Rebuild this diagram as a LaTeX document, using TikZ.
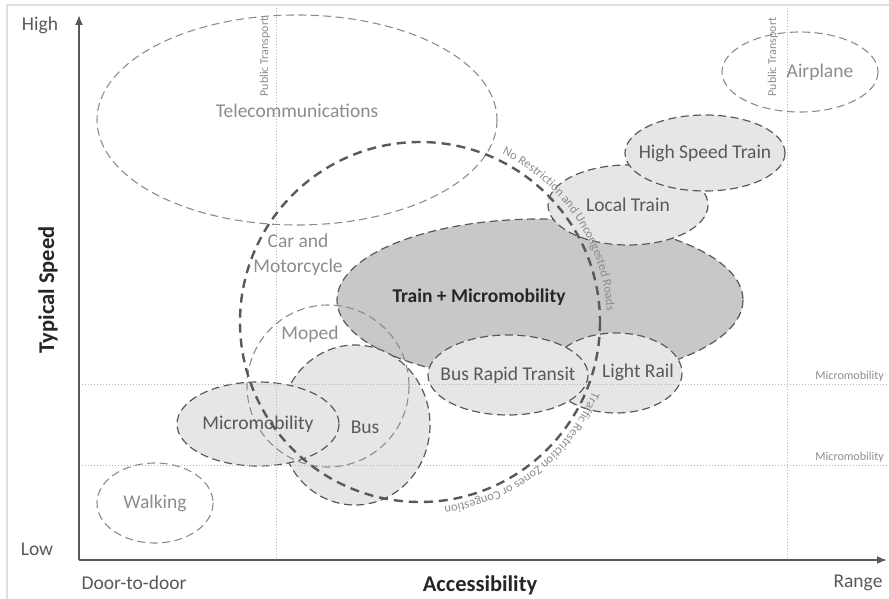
\documentclass[tikz,border=0pt]{standalone}
\usepackage{fontspec}
\setmainfont{Carlito}
\usetikzlibrary{arrows.meta,decorations.text}
\definecolor{lbl}{HTML}{8C8C8C}
\definecolor{dlbl}{HTML}{595959}
\definecolor{edgec}{HTML}{595959}
\definecolor{ledge}{HTML}{8C8C8C}
\definecolor{fillA}{HTML}{E6E6E6}
\definecolor{fillB}{HTML}{C8C8C8}
\definecolor{gridc}{HTML}{B4B4B4}
\definecolor{framec}{HTML}{E0E0E0}
\definecolor{axisc}{HTML}{595959}
\definecolor{titlec}{HTML}{262626}
\tikzset{
  fz/.style={font=\fontsize{#1}{#1}\selectfont},
  filledoval/.style={draw=edgec, fill=fillA, line width=1.2pt, dash pattern=on 8pt off 4.5pt},
  darkoval/.style={draw=edgec, fill=fillB, line width=1.2pt, dash pattern=on 8pt off 4.5pt},
  emptyoval/.style={draw=ledge, line width=1.1pt, dash pattern=on 8pt off 4.5pt},
  caroval/.style={draw=edgec, line width=2.4pt, dash pattern=on 9pt off 6pt},
  gridline/.style={draw=gridc, line width=0.9pt, dash pattern=on 1.2pt off 1.8pt},
  lighttext/.style={text=lbl, fz=19.5, inner sep=0pt},
  darktext/.style={text=dlbl, fz=19.5, inner sep=0pt},
  smalltext/.style={text=lbl, fz=12, inner sep=0pt},
  axistext/.style={text=dlbl, fz=19.5, inner sep=0pt},
  axistitle/.style={text=titlec, fz=22.5, font=\bfseries\fontsize{22.5}{22.5}\selectfont, inner sep=0pt},
  axisline/.style={draw=axisc, line width=1.8pt, -{Latex[length=10pt,width=8pt]}},
}
\begin{document}
\begin{tikzpicture}[x=1pt,y=-1pt]
\useasboundingbox (0,0) rectangle (889,599);
% frame
\draw[framec, line width=1.5pt] (7,599) -- (7,5) -- (889,5);

% filled ovals
\draw[darkoval] (540,300) ellipse [x radius=203, y radius=81];
\draw[filledoval] (355,425) ellipse [x radius=75, y radius=80];
\draw[filledoval] (258,424) ellipse [x radius=81, y radius=42];
\draw[filledoval] (616,373) ellipse [x radius=66, y radius=40];
\draw[filledoval] (508,375) ellipse [x radius=80, y radius=40];
\draw[filledoval] (628,205) ellipse [x radius=80, y radius=40];
\draw[filledoval] (705,153) ellipse [x radius=80, y radius=38];

% grid lines
\coordinate (pt1top) at (276,8);
\coordinate (pt1bot) at (276,559);
\coordinate (pt2top) at (787,8);
\coordinate (pt2bot) at (787,559);
\coordinate (mm1l) at (79,384);
\coordinate (mm1r) at (889,384);
\coordinate (mm2l) at (79,465);
\coordinate (mm2r) at (889,465);
\draw[gridline] (pt1top) -- (pt1bot);
\draw[gridline] (pt2top) -- (pt2bot);
\draw[gridline] (mm1l) -- (mm1r);
\draw[gridline] (mm2l) -- (mm2r);

% empty ovals
\draw[emptyoval] (297,120) ellipse [x radius=200, y radius=105];
\draw[emptyoval] (800,72) ellipse [x radius=78, y radius=40];
\draw[emptyoval] (328,386) ellipse [x radius=81, y radius=81];
\draw[emptyoval] (155,503) ellipse [x radius=58, y radius=40];

% car and motorcycle circle
\draw[caroval] (420,322) ellipse [x radius=180, y radius=180];
\path[decorate, decoration={text along path, text color=lbl,
  text={|\fontsize{12.5}{12.5}\selectfont|No Restriction and Uncongested Roads}}]
  (420pt,-322pt) ++(64:187pt) arc[start angle=64, end angle=-10, radius=187pt];
\path[decorate, decoration={text along path, text color=lbl,
  text={|\fontsize{12.5}{12.5}\selectfont|Traffic Restriction Zones or Congestion}}]
  (420pt,-322pt) ++(-22:186pt) arc[start angle=-22, end angle=-100, radius=186pt];

% axes
\coordinate (origin) at (79,560);
\coordinate (ytop) at (79,15);
\coordinate (xend) at (887,560);
\draw[axisline] (origin) -- (ytop);
\draw[axisline] (origin) -- (xend);

% labels
\node[lighttext] (tele) at (297,111) {Telecommunications};
\node[lighttext] (air) at (820,72) {Airplane};
\node[darktext] (hst) at (705,153) {High Speed Train};
\node[darktext] (lt) at (628,205) {Local Train};
\node[lighttext, align=center, font=\fontsize{19.5}{24.5}\selectfont] (car) at (298,255) {Car and\\Motorcycle};
\node[text=titlec, inner sep=0pt, font=\bfseries\fontsize{19.5}{19.5}\selectfont] (tm) at (479,297) {Train + Micromobility};
\node[lighttext] (moped) at (310,334) {Moped};
\node[darktext] (brt) at (508,375) {Bus Rapid Transit};
\node[darktext] (lr) at (638,372) {Light Rail};
\node[darktext] (micro) at (258,424) {Micromobility};
\node[darktext] (bus) at (365,427) {Bus};
\node[lighttext] (walk) at (155,503) {Walking};

\node[smalltext, rotate=90] (ptl1) at (265,57) {Public Transport};
\node[smalltext, rotate=90] (ptl2) at (773,57) {Public Transport};
\node[smalltext, anchor=east] (mml1) at (884,376) {Micromobility};
\node[smalltext, anchor=east] (mml2) at (884,457) {Micromobility};

\node[axistext] (high) at (40,25) {High};
\node[axistext] (low) at (37,549) {Low};
\node[axistext] (d2d) at (134,583) {Door-to-door};
\node[axistext] (range) at (858,583) {Range};
\node[axistitle] (acc) at (480,585) {Accessibility};
\node[axistitle, rotate=90] (ts) at (48,290) {Typical Speed};
\end{tikzpicture}
\end{document}
